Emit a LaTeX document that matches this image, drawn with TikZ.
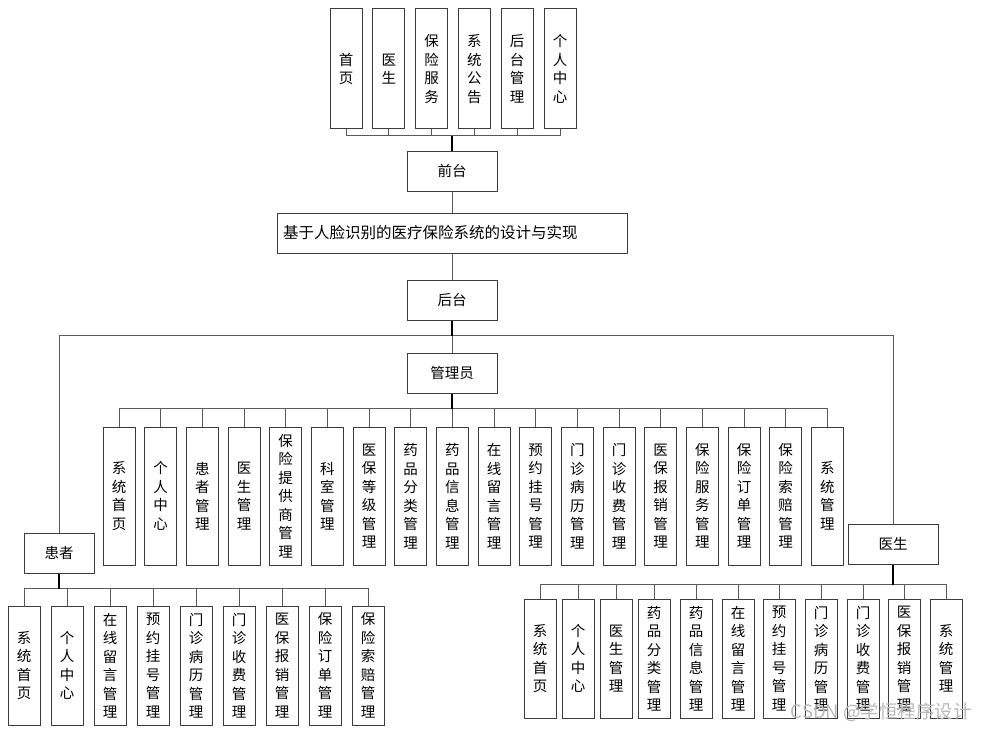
\documentclass[tikz,border=0pt]{standalone}
\usepackage{fontspec}
\setmainfont{Noto Sans CJK SC}
\definecolor{boxline}{RGB}{60,60,60}
\definecolor{linkline}{RGB}{90,90,90}
\definecolor{wmgray}{RGB}{185,185,185}
\begin{document}
\begin{tikzpicture}[x=1pt,y=-1pt]
\tikzset{
 box/.style={draw=boxline, line width=1pt, inner sep=0pt, fill=white, font=\fontsize{14.5}{18.5}\selectfont},
 hbox/.style={box, minimum width=90, minimum height=40},
 vbox/.style={box, minimum width=32, align=center},
 link/.style={draw=linkline, line width=0.9pt},
 trunk/.style={draw=black, line width=1.6pt}
}
\path[use as bounding box, fill=white] (0,0) rectangle (987,733);
% top level
\node[hbox] (qiantai) at (452,171) {前台};
\node[box, minimum width=350, minimum height=40, text width=338, align=left, font=\fontsize{15.5}{18}\selectfont] (title) at (452,233) {基于人脸识别的医疗保险系统的设计与实现};
\node[hbox] (houtai) at (452,300) {后台};
\node[hbox] (admin) at (452,373) {管理员};
\node[box, minimum width=70, minimum height=40] (patient) at (59,553) {患者};
\node[hbox] (doctor) at (893,544) {医生};
% front children
\foreach \i/\t in {1/{首\\页},2/{医\\生},3/{保\\险\\服\\务},4/{系\\统\\公\\告},5/{后\\台\\管\\理},6/{个\\人\\中\\心}}
  \node[vbox, minimum height=120] (t\i) at ({346+42.8*(\i-1)},69) {\t};
% admin children
\foreach \i/\t in {1/{系\\统\\首\\页},2/{个\\人\\中\\心},3/{患\\者\\管\\理},4/{医\\生\\管\\理},5/{保\\险\\提\\供\\商\\管\\理},6/{科\\室\\管\\理},7/{医\\保\\等\\级\\管\\理},8/{药\\品\\分\\类\\管\\理},9/{药\\品\\信\\息\\管\\理},10/{在\\线\\留\\言\\管\\理},11/{预\\约\\挂\\号\\管\\理},12/{门\\诊\\病\\历\\管\\理},13/{门\\诊\\收\\费\\管\\理},14/{医\\保\\报\\销\\管\\理},15/{保\\险\\服\\务\\管\\理},16/{保\\险\\订\\单\\管\\理},17/{保\\险\\索\\赔\\管\\理},18/{系\\统\\管\\理}}
  \node[vbox, minimum height=138] (a\i) at ({119+41.67*(\i-1)},496) {\t};
% patient children
\foreach \i/\t in {1/{系\\统\\首\\页},2/{个\\人\\中\\心},3/{在\\线\\留\\言\\管\\理},4/{预\\约\\挂\\号\\管\\理},5/{门\\诊\\病\\历\\管\\理},6/{门\\诊\\收\\费\\管\\理},7/{医\\保\\报\\销\\管\\理},8/{保\\险\\订\\单\\管\\理},9/{保\\险\\索\\赔\\管\\理}}
  \node[vbox, minimum height=119] (p\i) at ({24+43*(\i-1)},665.5) {\t};
% doctor children
\foreach \i/\x/\t in {1/540/{系\\统\\首\\页},2/578/{个\\人\\中\\心},3/616/{医\\生\\管\\理},4/654/{药\\品\\分\\类\\管\\理},5/696/{药\\品\\信\\息\\管\\理},6/738/{在\\线\\留\\言\\管\\理},7/779/{预\\约\\挂\\号\\管\\理},8/821/{门\\诊\\病\\历\\管\\理},9/863/{门\\诊\\收\\费\\管\\理},10/904/{医\\保\\报\\销\\管\\理},11/946/{系\\统\\管\\理}}
  \node[vbox, minimum height=119] (d\i) at (\x,658.5) {\t};
% connectors
\foreach \i in {1,...,6} \draw[link] (qiantai.north) -- ++(0,-15) -| (t\i.south);
\draw[trunk] (qiantai.north) -- ++(0,-15);
\draw[link] (qiantai.south) -- (title.north);
\draw[link] (title.south) -- (houtai.north);
\draw[link] (houtai.south) -- (admin.north);
\draw[link] (houtai.south) -- ++(0,15) -| (patient.north);
\draw[link] (houtai.south) -- ++(0,15) -| (doctor.north);
\draw[trunk] (houtai.south) -- ++(0,15);
\foreach \i in {1,...,18} \draw[link] (admin.south) -- ++(0,15) -| (a\i.north);
\draw[trunk] (admin.south) -- ++(0,15);
\foreach \i in {1,...,9} \draw[link] (patient.south) -- ++(0,15) -| (p\i.north);
\draw[trunk] (patient.south) -- ++(0,15);
\foreach \i in {1,...,11} \draw[link] (doctor.south) -- ++(0,20) -| (d\i.north);
\draw[trunk] (doctor.south) -- ++(0,20);
% watermark
\node[text=wmgray, font=\fontsize{18.5}{18.5}\selectfont, anchor=east, inner sep=0pt] (wm) at (972,712) {CSDN @学恒程序设计};
\end{tikzpicture}
\end{document}
